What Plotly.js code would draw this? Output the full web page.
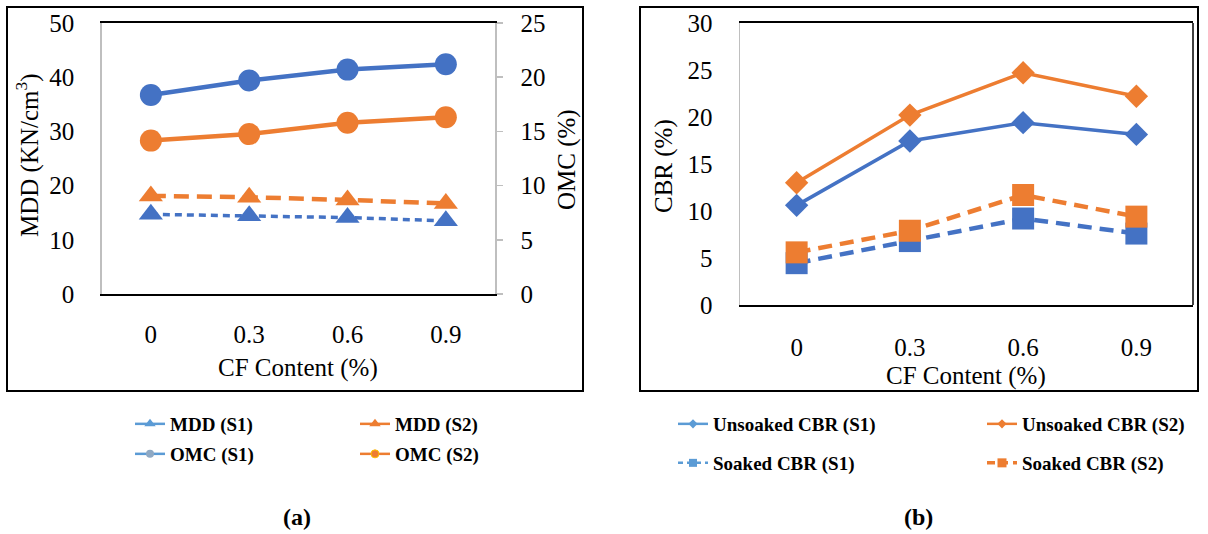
<!DOCTYPE html>
<html>
<head>
<meta charset="utf-8">
<script src="https://cdn.plot.ly/plotly-3.0.1.min.js"></script>
<style>html,body{margin:0;padding:0;background:#fff;}#chart{width:1208px;height:534px;}</style>
</head>
<body>
<div id="chart"></div>
<script>
// ---- data ----
const categories = ['0', '0.3', '0.6', '0.9'];
// panel (a)
const mddS1 = [14.7, 14.45, 14.1, 13.5];     // left axis
const mddS2 = [18.1, 17.85, 17.35, 16.7];    // left axis
const omcS1 = [18.35, 19.7, 20.7, 21.2];     // right axis (%)
const omcS2 = [14.15, 14.75, 15.8, 16.3];    // right axis (%)
// panel (b)
const unsoakedS1 = [10.6, 17.45, 19.4, 18.15];
const unsoakedS2 = [13.0, 20.2, 24.7, 22.2];
const soakedS1 = [4.45, 6.8, 9.2, 7.6];
const soakedS2 = [5.6, 7.9, 11.7, 9.4];
// labels
const yTitleA = 'MDD (KN/cm<sup>3</sup>)';
const y2TitleA = 'OMC (%)';
const yTitleB = 'CBR (%)';
const xTitle = 'CF Content (%)';
const panelA = '(a)';
const panelB = '(b)';
const legendNamesA = ['MDD (S1)', 'MDD (S2)', 'OMC (S1)', 'OMC (S2)'];
const legendNamesB = ['Unsoaked CBR (S1)', 'Unsoaked CBR (S2)', 'Soaked CBR (S1)', 'Soaked CBR (S2)'];

const BLUE = '#4472C4', ORANGE = '#ED7D31', LBLUE = '#5B9BD5';
const FONT = 'Liberation Serif, Times New Roman, serif';
const W = 1208, H = 534;
const px = v => v / W, py = v => 1 - v / H;

const traces = [
  // ---- panel (a) ----
  {x: categories, y: omcS1, xaxis: 'x', yaxis: 'y2', mode: 'lines+markers', showlegend: false,
   line: {color: BLUE, width: 4.5}, marker: {symbol: 'circle', size: 22, color: BLUE}},
  {x: categories, y: omcS2, xaxis: 'x', yaxis: 'y2', mode: 'lines+markers', showlegend: false,
   line: {color: ORANGE, width: 4.5}, marker: {symbol: 'circle', size: 22, color: ORANGE}},
  {x: categories, y: mddS1, xaxis: 'x', yaxis: 'y', mode: 'lines+markers', showlegend: false,
   line: {color: BLUE, width: 3.5, dash: '7px,5px'}, marker: {symbol: 'triangle-up', size: 21, color: BLUE}},
  {x: categories, y: mddS2, xaxis: 'x', yaxis: 'y', mode: 'lines+markers', showlegend: false,
   line: {color: ORANGE, width: 4.5, dash: '15px,8px'}, marker: {symbol: 'triangle-up', size: 21, color: ORANGE}},
  // ---- panel (b) ----
  {x: categories, y: unsoakedS1, xaxis: 'x2', yaxis: 'y3', mode: 'lines+markers', showlegend: false,
   line: {color: BLUE, width: 3.5}, marker: {symbol: 'diamond', size: 18, color: BLUE}},
  {x: categories, y: unsoakedS2, xaxis: 'x2', yaxis: 'y3', mode: 'lines+markers', showlegend: false,
   line: {color: ORANGE, width: 3.5}, marker: {symbol: 'diamond', size: 18, color: ORANGE}},
  {x: categories, y: soakedS1, xaxis: 'x2', yaxis: 'y3', mode: 'lines+markers', showlegend: false,
   line: {color: BLUE, width: 4.5, dash: '14px,8px'}, marker: {symbol: 'square', size: 22, color: BLUE}},
  {x: categories, y: soakedS2, xaxis: 'x2', yaxis: 'y3', mode: 'lines+markers', showlegend: false,
   line: {color: ORANGE, width: 4.5, dash: '14px,8px'}, marker: {symbol: 'square', size: 22, color: ORANGE}},
];

// legend-only entries (one legend box per entry for exact placement)
const legendStyles = [
  {name: legendNamesA[0], line: {color: LBLUE, width: 2.5}, marker: {symbol: 'triangle-up', size: 10, color: LBLUE}},
  {name: legendNamesA[1], line: {color: ORANGE, width: 2.5}, marker: {symbol: 'triangle-up', size: 10, color: ORANGE}},
  {name: legendNamesA[2], line: {color: LBLUE, width: 2.5}, marker: {symbol: 'circle', size: 8, color: '#8FA9C4'}},
  {name: legendNamesA[3], line: {color: ORANGE, width: 2.5}, marker: {symbol: 'circle', size: 8, color: ORANGE, line: {color: '#FFC000', width: 1}}},
  {name: legendNamesB[0], line: {color: LBLUE, width: 2.5}, marker: {symbol: 'diamond', size: 7, color: LBLUE}},
  {name: legendNamesB[1], line: {color: ORANGE, width: 2.5}, marker: {symbol: 'diamond', size: 7, color: ORANGE}},
  {name: legendNamesB[2], line: {color: LBLUE, width: 2.5, dash: '5px,4px'}, marker: {symbol: 'square', size: 8, color: LBLUE}},
  {name: legendNamesB[3], line: {color: ORANGE, width: 3.5, dash: '8px,5px'}, marker: {symbol: 'square', size: 9, color: ORANGE}},
];
const legendPos = [
  [130, 424], [355, 424], [130, 454], [355, 454],
  [673, 424], [982, 424], [673, 463], [982, 463],
];
const layoutLegends = {};
legendStyles.forEach((s, i) => {
  const key = i === 0 ? 'legend' : 'legend' + (i + 1);
  traces.push(Object.assign({x: [null], y: [null], xaxis: i < 4 ? 'x' : 'x2', yaxis: i < 4 ? 'y' : 'y3',
    mode: 'lines+markers', showlegend: true, legend: key}, s));
  layoutLegends[key] = {x: px(legendPos[i][0]), y: py(legendPos[i][1]), xanchor: 'left', yanchor: 'middle',
    bgcolor: 'rgba(0,0,0,0)', borderwidth: 0, font: {family: FONT, size: 19, color: '#000', weight: 'bold'}};
});

const tickFont = {family: FONT, size: 25, color: '#000'};
const titleFont = {family: FONT, size: 25, color: '#000'};
const layout = Object.assign({
  width: W, height: H,
  margin: {l: 0, r: 0, t: 0, b: 0},
  paper_bgcolor: '#fff', plot_bgcolor: '#fff',
  font: {family: FONT, color: '#000'},
  xaxis: {domain: [px(101.7), px(495)], anchor: 'y', type: 'category', range: [-0.5, 3.5],
    showgrid: false, zeroline: false, showline: true, mirror: true, linecolor: '#000', linewidth: 2,
    ticks: '', tickfont: tickFont, ticklabelstandoff: 17},
  yaxis: {domain: [py(294), py(23)], anchor: 'x', range: [0, 50], dtick: 10,
    showgrid: false, zeroline: false, showline: true, linecolor: '#BFBFBF', linewidth: 1.5,
    ticks: '', tickfont: tickFont, ticklabelstandoff: 21},
  yaxis2: {overlaying: 'y', side: 'right', anchor: 'x', range: [0, 25], dtick: 5,
    showgrid: false, zeroline: false, showline: true, linecolor: '#BFBFBF', linewidth: 1.5,
    ticks: 'outside', ticklen: 6, tickcolor: '#BFBFBF', tickwidth: 1.5, tickfont: tickFont, ticklabelstandoff: 13},
  xaxis2: {domain: [px(740), px(1193)], anchor: 'y3', type: 'category', range: [-0.5, 3.5],
    showgrid: false, zeroline: false, showline: true, mirror: true, linecolor: '#000', linewidth: 2,
    ticks: '', tickfont: tickFont, ticklabelstandoff: 19},
  yaxis3: {domain: [py(305), py(23)], anchor: 'x2', range: [0, 30], dtick: 5,
    showgrid: false, zeroline: false, showline: true, linecolor: '#BFBFBF', linewidth: 1.5,
    ticks: '', tickfont: tickFont, ticklabelstandoff: 21},
  shapes: [
    {type: 'rect', xref: 'paper', yref: 'paper', x0: px(7), x1: px(583), y0: py(391), y1: py(7),
     line: {color: '#000', width: 2}, fillcolor: 'rgba(0,0,0,0)', layer: 'below'},
    {type: 'rect', xref: 'paper', yref: 'paper', x0: px(640), x1: px(1198), y0: py(391), y1: py(7),
     line: {color: '#000', width: 2}, fillcolor: 'rgba(0,0,0,0)', layer: 'below'},
    {type: 'line', xref: 'x2 domain', yref: 'y3 domain', x0: 1, x1: 1, y0: 0, y1: 1,
     line: {color: '#000', width: 1.5}},
  ],
  annotations: [
    {text: yTitleA, xref: 'paper', yref: 'paper', x: px(28), y: py(155), textangle: -90, showarrow: false,
     font: titleFont, xanchor: 'center', yanchor: 'middle'},
    {text: y2TitleA, xref: 'paper', yref: 'paper', x: px(567), y: py(160), textangle: -90, showarrow: false,
     font: titleFont, xanchor: 'center', yanchor: 'middle'},
    {text: xTitle, xref: 'paper', yref: 'paper', x: px(298), y: py(368), showarrow: false,
     font: titleFont, xanchor: 'center', yanchor: 'middle'},
    {text: yTitleB, xref: 'paper', yref: 'paper', x: px(664), y: py(166), textangle: -90, showarrow: false,
     font: titleFont, xanchor: 'center', yanchor: 'middle'},
    {text: xTitle, xref: 'paper', yref: 'paper', x: px(966), y: py(376), showarrow: false,
     font: titleFont, xanchor: 'center', yanchor: 'middle'},
    {text: panelA, xref: 'paper', yref: 'paper', x: px(297), y: py(517), showarrow: false,
     font: {family: FONT, size: 24, color: '#000', weight: 'bold'}, xanchor: 'center', yanchor: 'middle'},
    {text: panelB, xref: 'paper', yref: 'paper', x: px(918), y: py(517), showarrow: false,
     font: {family: FONT, size: 24, color: '#000', weight: 'bold'}, xanchor: 'center', yanchor: 'middle'},
  ],
}, layoutLegends);

Plotly.newPlot('chart', traces, layout, {displayModeBar: false, staticPlot: true});
</script>
</body>
</html>
